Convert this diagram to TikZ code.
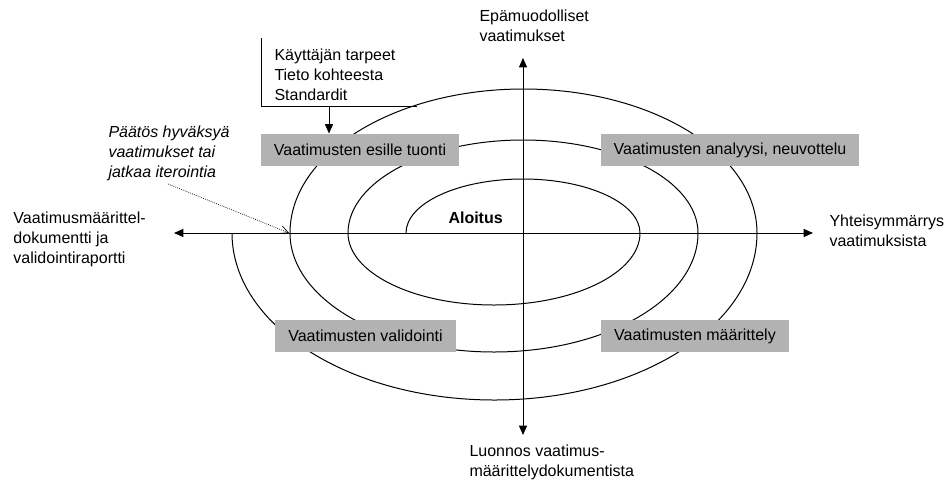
\documentclass[tikz,border=0pt]{standalone}
\usepackage{fontspec}
\setmainfont{Liberation Sans}
\usetikzlibrary{arrows.meta}

\tikzset{every picture/.style={line width=0.75pt}}
\tikzset{
  txt/.style={anchor=base west, inner sep=0.75pt, align=left, font=\fontsize{12}{15}\selectfont},
  phase/.style={fill=black!30, inner sep=0pt, font=\fontsize{12}{15}\selectfont},
  tip/.style={-{Triangle[length=7pt,width=6pt]}},
  tips/.style={{Triangle[length=7pt,width=6pt]}-{Triangle[length=7pt,width=6pt]}}
}

\begin{document}
\begin{tikzpicture}[x=0.75pt,y=0.75pt,yscale=-1,xscale=1]
	\useasboundingbox (0,0) rectangle (947,480);
	
	%Spiral
	\draw (406,233) arc[start angle=180, end angle=360, x radius=117, y radius=54]
	  arc[start angle=0, end angle=180, x radius=146, y radius=72]
	  arc[start angle=180, end angle=360, x radius=175, y radius=93]
	  arc[start angle=0, end angle=180, x radius=204, y radius=119]
	  arc[start angle=180, end angle=360, x radius=233.5, y radius=144]
	  arc[start angle=0, end angle=180, x radius=262.5, y radius=167];
	
	%Axes
	\coordinate (axW) at (174,233);
	\coordinate (axE) at (813,233);
	\coordinate (axN) at (523,58);
	\coordinate (axS) at (523,435);
	\draw [tips] (axW) -- (axE);
	\draw [tips] (axN) -- (axS);
	
	% Phase boxes
	\node [phase, minimum width=148.5pt, minimum height=24pt] (esille) at (360,150) {Vaatimusten esille tuonti};
	\node [phase, minimum width=193.5pt, minimum height=24pt] (analyysi) at (730,150) {Vaatimusten analyysi, neuvottelu};
	\node [phase, minimum width=135.75pt, minimum height=24pt] (validointi) at (365.5,336) {Vaatimusten validointi};
	\node [phase, minimum width=141pt, minimum height=24pt] (maarittely) at (695,336) {Vaatimusten määrittely};
	
	%Inputs bracket
	\coordinate (inTop) at (261,38);
	\coordinate (inCorner) at (261,106);
	\coordinate (inEnd) at (417,106);
	\coordinate (inArrow) at (329,106);
	\draw (inTop) -- (inCorner) -- (inEnd);
	\draw [tip] (inArrow) -- (inArrow |- esille.north);
	
	% Text Node (base = last line)
	\node [txt] (inputs) at (273,100) {Käyttäjän tarpeet\\Tieto kohteesta\\Standardit};
	% Text Node
	\node [txt] (informal) at (478,41) {Epämuodolliset\\vaatimukset};
	% Text Node
	\node [txt] (document) at (12,263) {Vaatimusmäärittel-\\dokumentti ja\\validointiraportti};
	% Text Node
	\node [txt] (agreed) at (828,246) {Yhteisymmärrys\\vaatimuksista};
	% Text Node
	\node [txt] (draft) at (468,476) {Luonnos vaatimus-\\määrittelydokumentista};
	% Text Node
	\node [txt, font=\fontsize{12}{15}\selectfont\bfseries] (start) at (447,223) {Aloitus};
	% Text Node
	\node [txt, font=\fontsize{12}{15}\selectfont\itshape] (decision) at (107,177) {Päätös hyväksyä\\vaatimukset tai\\jatkaa iterointia};
	
	%Decision pointer
	\coordinate (decFrom) at (168,184);
	\coordinate (decTo) at (289,233);
	\draw [line width=0.5pt, dash pattern=on 0.6pt off 0.9pt, -{Straight Barb[length=6pt,width=6pt]}] (decFrom) -- (decTo);
	
\end{tikzpicture}
\end{document}
